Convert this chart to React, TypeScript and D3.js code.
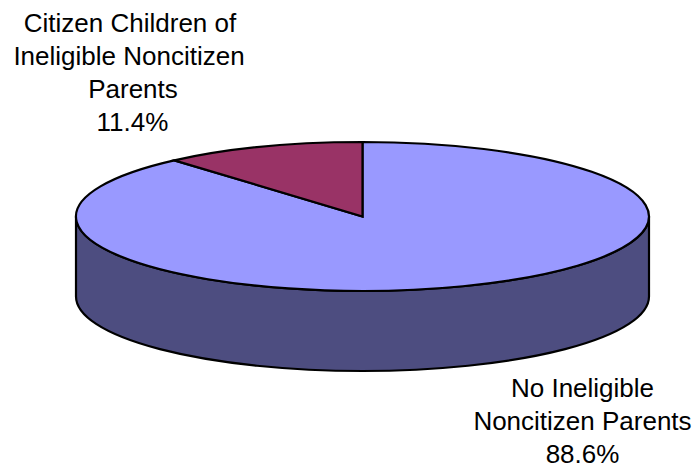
import React from "react";
import * as d3 from "d3";

const categories = ["No Ineligible Noncitizen Parents", "Citizen Children of Ineligible Noncitizen Parents"];
const values = [88.6, 11.4];
const colors = ["#9999ff", "#993366"];
const sideColor = "#4d4d80";
const leftLines = ["Citizen Children of", "Ineligible Noncitizen", "Parents", values[1] + "%"];
const rightLines = ["No Ineligible", "Noncitizen Parents", values[0] + "%"];

const W = 695, H = 468;
const cx = 362.5, cy = 216.5, rx = 286.5, ry = 74.5, depth = 80;
const leftX = [130, 129, 133, 132.5];

export default function App() {
  const arcs = d3.pie<number>().sort(null).startAngle(0).endAngle(2 * Math.PI)(values);
  const unit = d3.arc<any>().innerRadius(0).outerRadius(1);
  const squash = `translate(${cx},${cy}) scale(${rx},${ry})`;
  const side = `M${cx - rx},${cy} L${cx - rx},${cy + depth} A${rx},${ry} 0 0 0 ${cx + rx},${cy + depth} L${cx + rx},${cy} A${rx},${ry} 0 0 1 ${cx - rx},${cy} Z`;
  const font = { fontFamily: "Liberation Sans, Arial, sans-serif", fontSize: 26, fill: "#000", textAnchor: "middle" as const };
  return (
    <svg width={W} height={H} style={{ position: "fixed", left: 0, top: 0, background: "#fff" }}>
      <path d={side} fill={sideColor} stroke="#000" strokeWidth={2.2} />
      {arcs.map((a, i) => (
        <path key={categories[i]} d={unit(a) as string} transform={squash} fill={colors[i]} stroke="#000" strokeWidth={2.2} vectorEffect="non-scaling-stroke" />
      ))}
      <text {...font}>{leftLines.map((t, i) => <tspan key={i} x={leftX[i]} y={32 + i * 33}>{t}</tspan>)}</text>
      <text {...font}>{rightLines.map((t, i) => <tspan key={i} x={582.5} y={397 + i * 33}>{t}</tspan>)}</text>
    </svg>
  );
}
